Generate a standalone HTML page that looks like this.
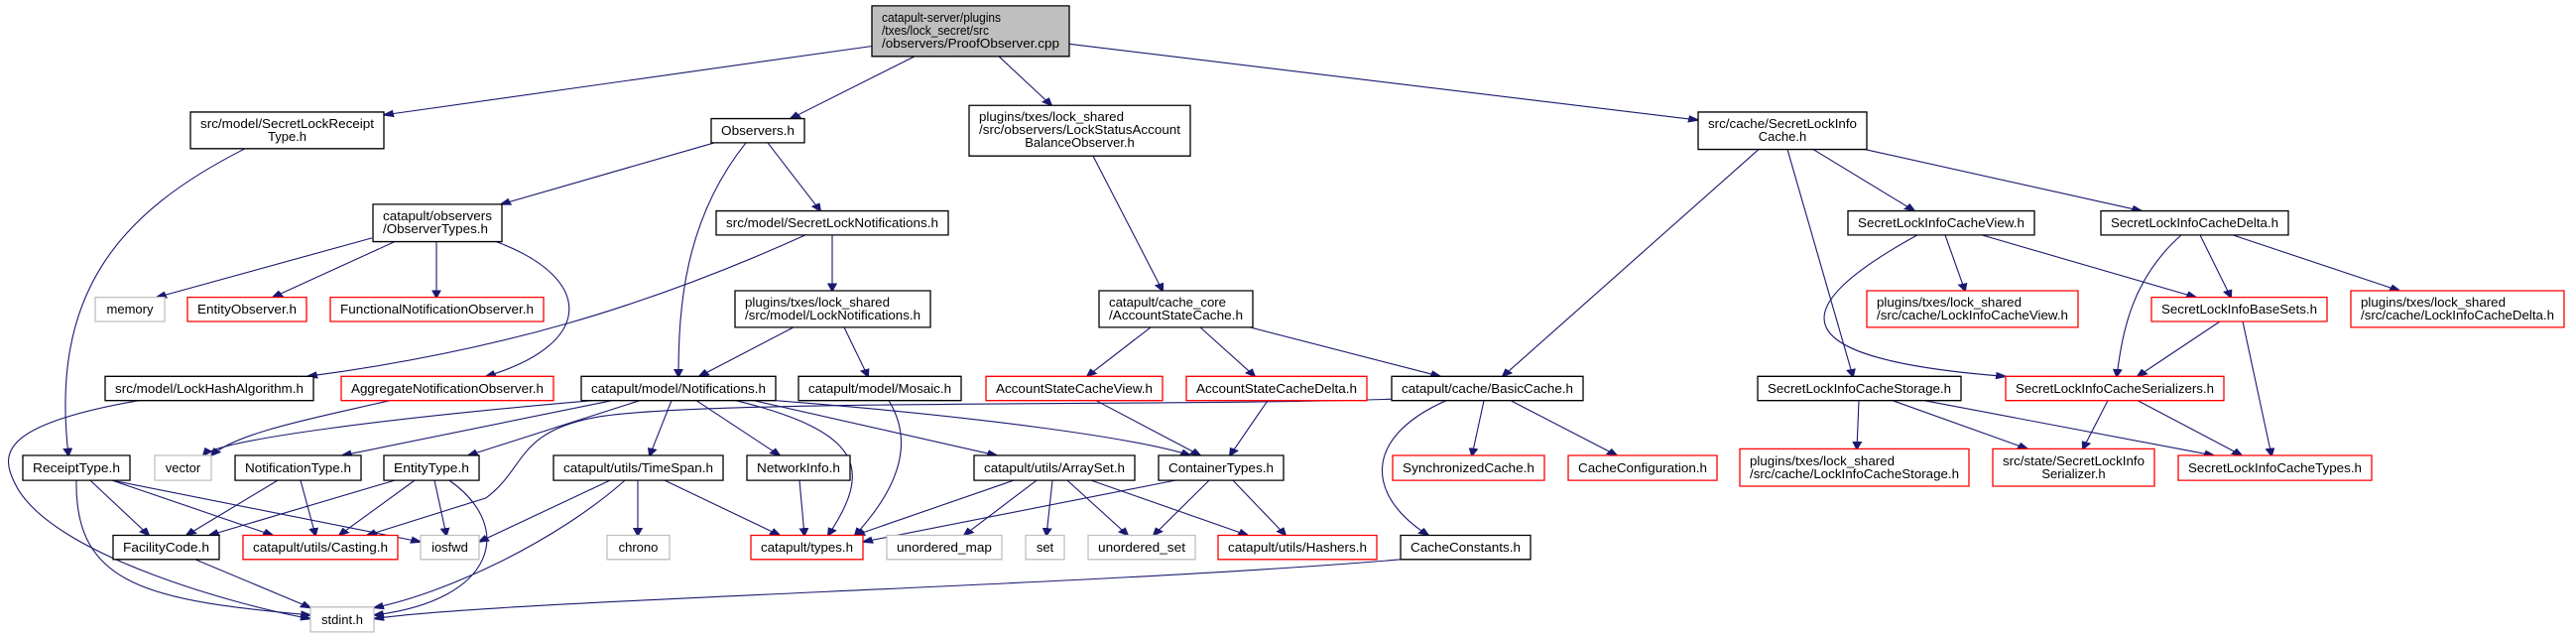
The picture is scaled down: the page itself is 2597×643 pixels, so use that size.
<!DOCTYPE html>
<html><head><meta charset="utf-8"><style>
html,body{margin:0;padding:0;background:#fff;}
svg{display:block;}
text{font-family:"Liberation Sans",Arial,sans-serif;font-size:13px;fill:#000;}
.b{fill:#fff;stroke:#000;stroke-width:1.3;vector-effect:non-scaling-stroke}
.r{fill:#fff;stroke:#f00;stroke-width:1.3;vector-effect:non-scaling-stroke}
.g{fill:#fff;stroke:#bfbfbf;stroke-width:1.3;vector-effect:non-scaling-stroke}
.e{fill:none;stroke:#191970;stroke-width:1.1;vector-effect:non-scaling-stroke;marker-end:url(#a)}
</style></head><body>
<svg width="2597" height="643" viewBox="0 0 2597 643" xmlns="http://www.w3.org/2000/svg">
<defs><marker id="a" viewBox="0 0 10 10" refX="9" refY="5" markerWidth="11" markerHeight="11" markerUnits="userSpaceOnUse" orient="auto"><path d="M0,1 L10,5 L0,9 z" fill="#191970" stroke="#191970"/></marker></defs>
<g transform="scale(1,0.738)">
<path class="e" d="M879,63 L387,157"/>
<path class="e" d="M922,77 L797,162"/>
<path class="e" d="M1007,77 L1060,144"/>
<path class="e" d="M1078,60 L1712,164"/>
<path class="e" d="M247,203 C120,290 50,400 69,622"/>
<path class="e" d="M720,195 L505,279"/>
<path class="e" d="M752,195 C690,300 684,420 684,514"/>
<path class="e" d="M774,195 L827,288"/>
<path class="e" d="M375,325 L158,406"/>
<path class="e" d="M398,330 L275,406"/>
<path class="e" d="M440,330 L440,406"/>
<path class="e" d="M500,330 C600,380 600,470 490,514"/>
<path class="e" d="M812,321 C650,420 500,480 310,514"/>
<path class="e" d="M839,321 L839,397"/>
<path class="e" d="M800,447 L705,514"/>
<path class="e" d="M851,447 L875,514"/>
<path class="e" d="M1102,213 L1172,397"/>
<path class="e" d="M1160,447 L1096,514"/>
<path class="e" d="M1210,447 L1265,514"/>
<path class="e" d="M1260,447 L1452,514"/>
<path class="e" d="M1773,204 L1515,514"/>
<path class="e" d="M1828,204 L1930,288"/>
<path class="e" d="M1802,204 L1868,514"/>
<path class="e" d="M1880,204 L2159,288"/>
<path class="e" d="M1961,321 L1981,397"/>
<path class="e" d="M1998,321 L2214,406"/>
<path class="e" d="M1933,321 C1800,420 1790,490 2022,514"/>
<path class="e" d="M2199,321 C2150,380 2140,450 2134,514"/>
<path class="e" d="M2218,321 L2249,406"/>
<path class="e" d="M2251,321 L2419,397"/>
<path class="e" d="M2238,439 L2155,514"/>
<path class="e" d="M2261,439 L2290,622"/>
<path class="e" d="M1874,547 L1872,613"/>
<path class="e" d="M1908,547 L2044,613"/>
<path class="e" d="M1940,547 L2232,622"/>
<path class="e" d="M2125,547 L2100,613"/>
<path class="e" d="M2155,547 L2260,622"/>
<path class="e" d="M1496,547 L1484,622"/>
<path class="e" d="M1523,547 L1630,622"/>
<path class="e" d="M1458,547 C1370,600 1380,680 1440,731"/>
<path class="e" d="M1403,545 C1200,555 700,545 600,570 C520,590 530,640 490,680 L370,731"/>
<path class="e" d="M1412,764 C1100,800 500,820 377,845"/>
<path class="e" d="M1105,547 L1210,622"/>
<path class="e" d="M1278,547 L1240,622"/>
<path class="e" d="M896,547 C920,600 910,660 862,731"/>
<path class="e" d="M597,547 C400,570 220,600 205,622"/>
<path class="e" d="M617,547 L345,622"/>
<path class="e" d="M645,547 L472,622"/>
<path class="e" d="M677,547 L655,622"/>
<path class="e" d="M702,547 L786,622"/>
<path class="e" d="M742,547 C870,590 880,640 835,731"/>
<path class="e" d="M760,547 L1005,622"/>
<path class="e" d="M782,547 C1000,570 1150,600 1200,622"/>
<path class="e" d="M140,547 C0,580 0,620 15,660 C50,760 250,830 313,845"/>
<path class="e" d="M393,547 C320,570 240,590 213,622"/>
<path class="e" d="M91,656 L150,731"/>
<path class="e" d="M113,656 L275,731"/>
<path class="e" d="M113,656 L424,740"/>
<path class="e" d="M77,656 C75,800 150,820 313,840"/>
<path class="e" d="M280,656 L188,731"/>
<path class="e" d="M303,656 L318,731"/>
<path class="e" d="M398,656 L211,731"/>
<path class="e" d="M418,656 L342,731"/>
<path class="e" d="M438,656 L450,731"/>
<path class="e" d="M453,656 C520,720 500,820 377,840"/>
<path class="e" d="M615,656 L483,740"/>
<path class="e" d="M643,656 L643,731"/>
<path class="e" d="M670,656 L786,731"/>
<path class="e" d="M630,656 C560,740 450,810 377,830"/>
<path class="e" d="M806,656 L811,731"/>
<path class="e" d="M1022,656 L862,731"/>
<path class="e" d="M1045,656 L972,731"/>
<path class="e" d="M1061,656 L1055,731"/>
<path class="e" d="M1076,656 L1137,731"/>
<path class="e" d="M1100,656 L1258,731"/>
<path class="e" d="M1185,656 L870,740"/>
<path class="e" d="M1219,656 L1163,731"/>
<path class="e" d="M1243,656 L1296,731"/>
<path class="e" d="M197,764 L313,830"/>

<rect x="879" y="8" width="199" height="69" fill="#bfbfbf" stroke="#000" stroke-width="1.3" vector-effect="non-scaling-stroke"/>
<rect class="b" x="192" y="153" width="195" height="50"/>
<rect class="b" x="717" y="162" width="94" height="33"/>
<rect class="b" x="977" y="144" width="223" height="69"/>
<rect class="b" x="1712" y="153" width="170" height="51"/>
<rect class="b" x="376" y="279" width="130" height="51"/>
<rect class="b" x="722" y="288" width="234" height="33"/>
<rect class="b" x="1863" y="288" width="188" height="33"/>
<rect class="b" x="2118" y="288" width="189" height="33"/>
<rect class="g" x="96" y="406" width="70" height="33"/>
<rect class="r" x="189" y="406" width="120" height="33"/>
<rect class="r" x="333" y="406" width="215" height="33"/>
<rect class="b" x="741" y="397" width="197" height="50"/>
<rect class="b" x="1108" y="397" width="155" height="50"/>
<rect class="r" x="1882" y="397" width="213" height="50"/>
<rect class="r" x="2169" y="406" width="177" height="33"/>
<rect class="r" x="2370" y="397" width="215" height="50"/>
<rect class="b" x="106" y="514" width="210" height="33"/>
<rect class="r" x="344" y="514" width="214" height="33"/>
<rect class="b" x="586" y="514" width="196" height="33"/>
<rect class="b" x="805" y="514" width="164" height="33"/>
<rect class="r" x="994" y="514" width="178" height="33"/>
<rect class="r" x="1196" y="514" width="182" height="33"/>
<rect class="b" x="1403" y="514" width="193" height="33"/>
<rect class="b" x="1772" y="514" width="205" height="33"/>
<rect class="r" x="2022" y="514" width="220" height="33"/>
<rect class="b" x="23" y="622" width="108" height="34"/>
<rect class="g" x="156" y="622" width="57" height="34"/>
<rect class="b" x="237" y="622" width="127" height="34"/>
<rect class="b" x="387" y="622" width="96" height="34"/>
<rect class="b" x="558" y="622" width="171" height="34"/>
<rect class="b" x="753" y="622" width="104" height="34"/>
<rect class="b" x="982" y="622" width="162" height="34"/>
<rect class="b" x="1168" y="622" width="126" height="34"/>
<rect class="r" x="1404" y="622" width="153" height="34"/>
<rect class="r" x="1581" y="622" width="150" height="34"/>
<rect class="r" x="1754" y="613" width="231" height="51"/>
<rect class="r" x="2009" y="613" width="163" height="51"/>
<rect class="r" x="2196" y="622" width="195" height="34"/>
<rect class="b" x="114" y="731" width="107" height="33"/>
<rect class="r" x="245" y="731" width="156" height="33"/>
<rect class="g" x="424" y="731" width="59" height="33"/>
<rect class="g" x="612" y="731" width="63" height="33"/>
<rect class="r" x="757" y="731" width="113" height="33"/>
<rect class="g" x="894" y="731" width="116" height="33"/>
<rect class="g" x="1034" y="731" width="39" height="33"/>
<rect class="g" x="1097" y="731" width="108" height="33"/>
<rect class="r" x="1228" y="731" width="160" height="33"/>
<rect class="b" x="1412" y="731" width="131" height="33"/>
<rect class="g" x="313" y="829" width="64" height="34"/>
</g>

<text x="889" y="22" textLength="120" lengthAdjust="spacingAndGlyphs">catapult-server/plugins</text>
<text x="889" y="35" textLength="108" lengthAdjust="spacingAndGlyphs">/txes/lock_secret/src</text>
<text x="889" y="48" textLength="179" lengthAdjust="spacingAndGlyphs">/observers/ProofObserver.cpp</text>

<text x="289.5" y="129" text-anchor="middle" textLength="175" lengthAdjust="spacingAndGlyphs">src/model/SecretLockReceipt</text>
<text x="289.5" y="142" text-anchor="middle">Type.h</text>
<text x="764" y="136" text-anchor="middle" textLength="74" lengthAdjust="spacingAndGlyphs">Observers.h</text>
<text x="987" y="122" textLength="146" lengthAdjust="spacingAndGlyphs">plugins/txes/lock_shared</text>
<text x="987" y="135" textLength="203" lengthAdjust="spacingAndGlyphs">/src/observers/LockStatusAccount</text>
<text x="1088.5" y="148" text-anchor="middle">BalanceObserver.h</text>
<text x="1797" y="129" text-anchor="middle" textLength="150" lengthAdjust="spacingAndGlyphs">src/cache/SecretLockInfo</text>
<text x="1797" y="142" text-anchor="middle">Cache.h</text>

<text x="386" y="222" textLength="110" lengthAdjust="spacingAndGlyphs">catapult/observers</text>
<text x="386" y="235" textLength="106" lengthAdjust="spacingAndGlyphs">/ObserverTypes.h</text>
<text x="839" y="229" text-anchor="middle" textLength="214" lengthAdjust="spacingAndGlyphs">src/model/SecretLockNotifications.h</text>
<text x="1957" y="229" text-anchor="middle" textLength="168" lengthAdjust="spacingAndGlyphs">SecretLockInfoCacheView.h</text>
<text x="2212.5" y="229" text-anchor="middle" textLength="169" lengthAdjust="spacingAndGlyphs">SecretLockInfoCacheDelta.h</text>

<text x="131" y="316" text-anchor="middle">memory</text>
<text x="249" y="316" text-anchor="middle" textLength="100" lengthAdjust="spacingAndGlyphs">EntityObserver.h</text>
<text x="440.5" y="316" text-anchor="middle" textLength="195" lengthAdjust="spacingAndGlyphs">FunctionalNotificationObserver.h</text>
<text x="751" y="309" textLength="146" lengthAdjust="spacingAndGlyphs">plugins/txes/lock_shared</text>
<text x="751" y="322" textLength="177" lengthAdjust="spacingAndGlyphs">/src/model/LockNotifications.h</text>
<text x="1118" y="309" textLength="118" lengthAdjust="spacingAndGlyphs">catapult/cache_core</text>
<text x="1118" y="322" textLength="135" lengthAdjust="spacingAndGlyphs">/AccountStateCache.h</text>
<text x="1892" y="309" textLength="146" lengthAdjust="spacingAndGlyphs">plugins/txes/lock_shared</text>
<text x="1892" y="322" textLength="193" lengthAdjust="spacingAndGlyphs">/src/cache/LockInfoCacheView.h</text>
<text x="2257.5" y="316" text-anchor="middle" textLength="157" lengthAdjust="spacingAndGlyphs">SecretLockInfoBaseSets.h</text>
<text x="2380" y="309" textLength="146" lengthAdjust="spacingAndGlyphs">plugins/txes/lock_shared</text>
<text x="2380" y="322" textLength="195" lengthAdjust="spacingAndGlyphs">/src/cache/LockInfoCacheDelta.h</text>

<text x="211" y="396" text-anchor="middle" textLength="190" lengthAdjust="spacingAndGlyphs">src/model/LockHashAlgorithm.h</text>
<text x="451" y="396" text-anchor="middle" textLength="194" lengthAdjust="spacingAndGlyphs">AggregateNotificationObserver.h</text>
<text x="684" y="396" text-anchor="middle" textLength="176" lengthAdjust="spacingAndGlyphs">catapult/model/Notifications.h</text>
<text x="887" y="396" text-anchor="middle" textLength="144" lengthAdjust="spacingAndGlyphs">catapult/model/Mosaic.h</text>
<text x="1083" y="396" text-anchor="middle" textLength="158" lengthAdjust="spacingAndGlyphs">AccountStateCacheView.h</text>
<text x="1287" y="396" text-anchor="middle" textLength="162" lengthAdjust="spacingAndGlyphs">AccountStateCacheDelta.h</text>
<text x="1499.5" y="396" text-anchor="middle" textLength="173" lengthAdjust="spacingAndGlyphs">catapult/cache/BasicCache.h</text>
<text x="1874.5" y="396" text-anchor="middle" textLength="185" lengthAdjust="spacingAndGlyphs">SecretLockInfoCacheStorage.h</text>
<text x="2132" y="396" text-anchor="middle" textLength="200" lengthAdjust="spacingAndGlyphs">SecretLockInfoCacheSerializers.h</text>

<text x="77" y="476" text-anchor="middle" textLength="88" lengthAdjust="spacingAndGlyphs">ReceiptType.h</text>
<text x="184.5" y="476" text-anchor="middle">vector</text>
<text x="300.5" y="476" text-anchor="middle" textLength="107" lengthAdjust="spacingAndGlyphs">NotificationType.h</text>
<text x="435" y="476" text-anchor="middle" textLength="76" lengthAdjust="spacingAndGlyphs">EntityType.h</text>
<text x="643.5" y="476" text-anchor="middle" textLength="151" lengthAdjust="spacingAndGlyphs">catapult/utils/TimeSpan.h</text>
<text x="805" y="476" text-anchor="middle" textLength="84" lengthAdjust="spacingAndGlyphs">NetworkInfo.h</text>
<text x="1063" y="476" text-anchor="middle" textLength="142" lengthAdjust="spacingAndGlyphs">catapult/utils/ArraySet.h</text>
<text x="1231" y="476" text-anchor="middle" textLength="106" lengthAdjust="spacingAndGlyphs">ContainerTypes.h</text>
<text x="1480.5" y="476" text-anchor="middle" textLength="133" lengthAdjust="spacingAndGlyphs">SynchronizedCache.h</text>
<text x="1656" y="476" text-anchor="middle" textLength="130" lengthAdjust="spacingAndGlyphs">CacheConfiguration.h</text>
<text x="1764" y="469" textLength="146" lengthAdjust="spacingAndGlyphs">plugins/txes/lock_shared</text>
<text x="1764" y="482" textLength="211" lengthAdjust="spacingAndGlyphs">/src/cache/LockInfoCacheStorage.h</text>
<text x="2090.5" y="469" text-anchor="middle" textLength="143" lengthAdjust="spacingAndGlyphs">src/state/SecretLockInfo</text>
<text x="2090.5" y="482" text-anchor="middle">Serializer.h</text>
<text x="2293.5" y="476" text-anchor="middle" textLength="175" lengthAdjust="spacingAndGlyphs">SecretLockInfoCacheTypes.h</text>

<text x="167.5" y="556" text-anchor="middle" textLength="87" lengthAdjust="spacingAndGlyphs">FacilityCode.h</text>
<text x="323" y="556" text-anchor="middle" textLength="136" lengthAdjust="spacingAndGlyphs">catapult/utils/Casting.h</text>
<text x="453.5" y="556" text-anchor="middle">iosfwd</text>
<text x="643.5" y="556" text-anchor="middle">chrono</text>
<text x="813.5" y="556" text-anchor="middle" textLength="93" lengthAdjust="spacingAndGlyphs">catapult/types.h</text>
<text x="952" y="556" text-anchor="middle" textLength="96" lengthAdjust="spacingAndGlyphs">unordered_map</text>
<text x="1053.5" y="556" text-anchor="middle">set</text>
<text x="1151" y="556" text-anchor="middle" textLength="88" lengthAdjust="spacingAndGlyphs">unordered_set</text>
<text x="1308" y="556" text-anchor="middle" textLength="140" lengthAdjust="spacingAndGlyphs">catapult/utils/Hashers.h</text>
<text x="1477.5" y="556" text-anchor="middle" textLength="111" lengthAdjust="spacingAndGlyphs">CacheConstants.h</text>
<text x="345" y="629" text-anchor="middle">stdint.h</text>
</svg>
</body></html>
